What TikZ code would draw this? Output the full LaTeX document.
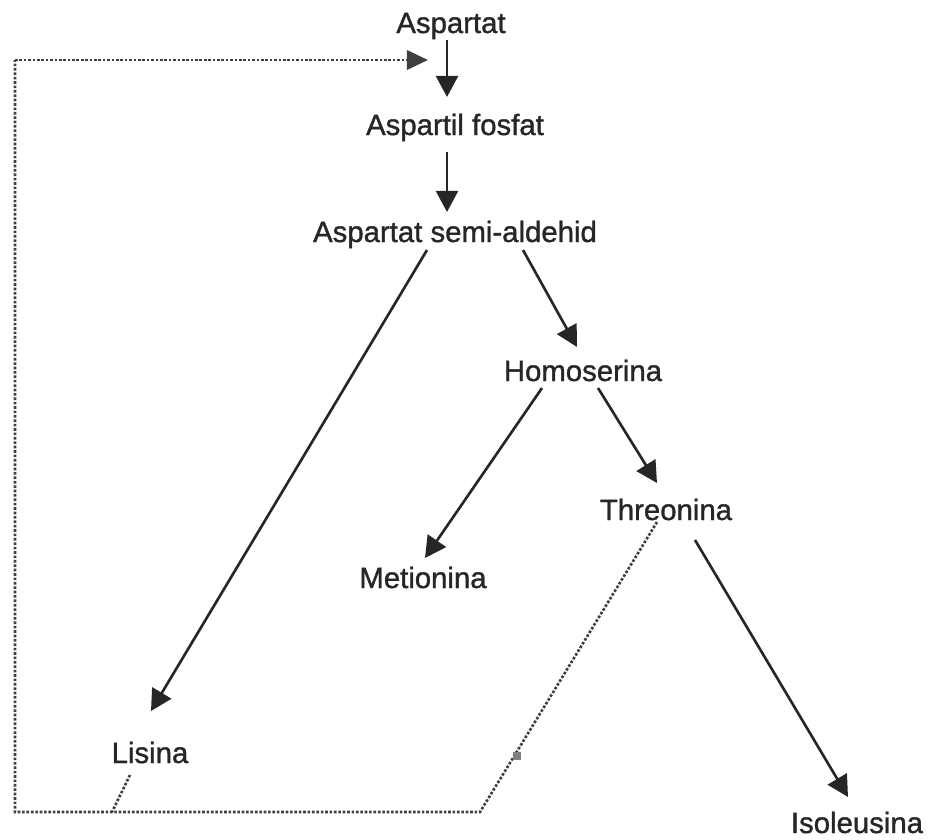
\documentclass[tikz,border=0pt]{standalone}
\usepackage{fontspec}
\setmainfont{Liberation Sans}
\newfontfamily\lblfont{Liberation Sans}[FakeBold=1.2]
\usetikzlibrary{arrows.meta,calc}
\begin{document}
\begin{tikzpicture}[x=0.02cm,y=-0.02cm,
    lbl/.style={inner sep=0pt,anchor=base,text=black!85,font=\lblfont\fontsize{16.7}{20}\selectfont},
    arr/.style={line width=1.5pt,black!85,-{Triangle[length=12pt,width=12.5pt]}},
    fb/.style={line width=1.5pt,gray!50!black,densely dotted}]
        \useasboundingbox (0,0) rectangle (930,839);

        \node [lbl] (asp) at (451,33) {Aspartat};
        \node [lbl] (fos) at (455,135) {Aspartil fosfat};
        \node [lbl] (sa) at (455,242) {Aspartat semi-aldehid};
        \node [lbl] (hom) at (583,381) {Homoserina};
        \node [lbl] (thr) at (666,520) {Threonina};
        \node [lbl] (met) at (423,588) {Metionina};
        \node [lbl] (lis) at (150,763) {Lisina};
        \node [lbl] (iso) at (857,833) {Isoleusina};

        \draw [arr] ($(asp.base)+(-4,7)$) -- ($(fos.base)+(-8,-38)$);
        \draw [arr] ($(fos.base)+(-8,17)$) -- ($(sa.base)+(-8,-30)$);
        \draw [arr] ($(sa.base)+(-28,8)$) -- ($(lis.base)+(1,-52)$);
        \draw [arr] ($(sa.base)+(68,8)$) -- ($(hom.base)+(-6,-34)$);
        \draw [arr] ($(hom.base)+(-41,7)$) -- ($(met.base)+(2,-30)$);
        \draw [arr] ($(hom.base)+(15,7)$) -- ($(thr.base)+(-9,-37)$);
        \draw [arr] ($(thr.base)+(29,20)$) -- ($(iso.base)+(-9,-36)$);

        % feedback
        \coordinate (jt) at (480,812);
        \coordinate (jl) at (112,812);
        \coordinate (cl) at (15,812);
        \coordinate (ct) at (15,60);
        \coordinate (fb) at (428,60);
        \draw [fb] ($(thr.base)+(-9,2)$) -- (jt) -- (cl) -- (ct);
        \draw [fb,-{Triangle[length=12pt,width=11pt]}] (ct) -- (fb);
        \draw [fb] ($(lis.base)+(-20,12)$) -- (jl);
        \fill [gray] (513,752) rectangle (521,760);
      \end{tikzpicture}
\end{document}
